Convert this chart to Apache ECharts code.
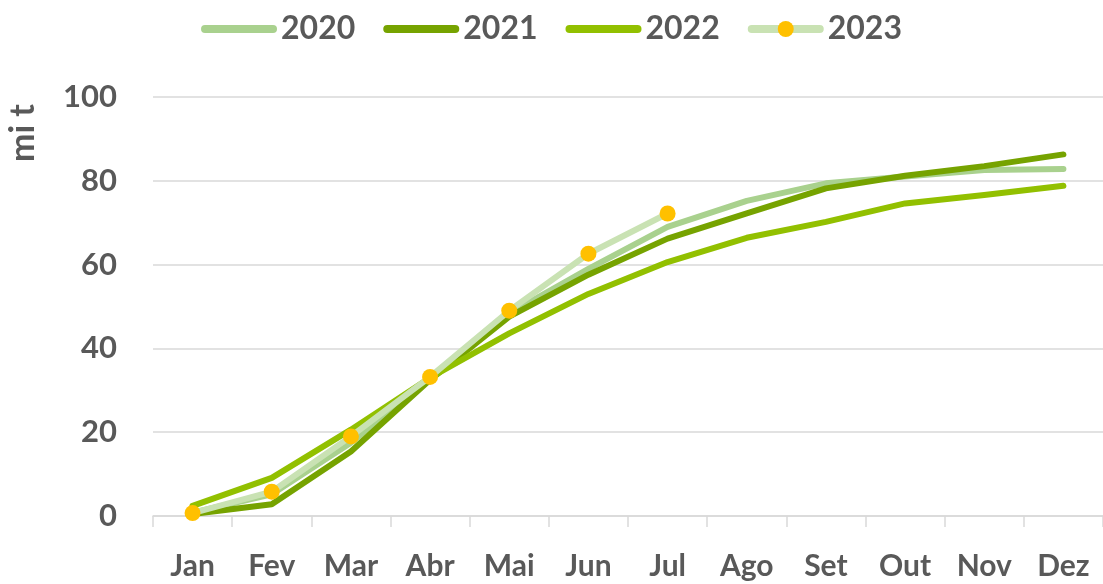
<!DOCTYPE html>
<html>
<head>
<meta charset="utf-8">
<script src="https://cdn.jsdelivr.net/npm/echarts@6/dist/echarts.min.js"></script>
<style>
  html, body { margin: 0; padding: 0; background: #fff; }
  #chart { width: 1103px; height: 584px; }
</style>
</head>
<body>
<div id="chart"></div>
<script>
const months = ['Jan', 'Fev', 'Mar', 'Abr', 'Mai', 'Jun', 'Jul', 'Ago', 'Set', 'Out', 'Nov', 'Dez'];
const years = ['2020', '2021', '2022', '2023'];

const v2020 = [0.8, 5.2, 17.5, 33, 48.3, 59, 69, 75.2, 79.4, 81, 82.6, 82.8];
const v2021 = [0.5, 2.8, 15.4, 32.5, 47.6, 57.6, 66.2, 72.2, 78.2, 81.2, 83.5, 86.3];
const v2022 = [2.4, 9.1, 20.6, 33, 43.6, 53, 60.6, 66.4, 70.2, 74.6, 76.6, 78.8];
const v2023 = [0.7, 5.8, 19, 33.2, 49, 62.6, 72.2];

const textGrey = '#595959';
const font = 'Lato';

const chart = echarts.init(document.getElementById('chart'));

const lineSeries = (name, data, color, extra) => Object.assign({
    name: name,
    type: 'line',
    data: data,
    symbol: 'none',
    lineStyle: { color: color, width: 6, cap: 'round', join: 'round' },
    itemStyle: { color: color },
    animation: false
}, extra || {});

chart.setOption({
    textStyle: { fontFamily: font },
    grid: { left: 153, right: -9, top: 97, bottom: 68 },
    legend: {
        top: 8,
        left: 'center',
        itemWidth: 68,
        itemHeight: 20,
        itemGap: 28,
        lineStyle: { width: 8, cap: 'round' },
        textStyle: { color: textGrey, fontSize: 32, fontWeight: 'bold', fontFamily: font, padding: [0, 0, 0, 3] },
        data: [
            { name: '2020', itemStyle: { opacity: 0 } },
            { name: '2021', itemStyle: { opacity: 0 } },
            { name: '2022', itemStyle: { opacity: 0 } },
            { name: '2023' }
        ]
    },
    xAxis: {
        type: 'category',
        data: months,
        boundaryGap: true,
        axisLine: { lineStyle: { color: '#d9d9d9', width: 1.5 } },
        axisTick: { show: true, length: 11, lineStyle: { color: '#d9d9d9', width: 1.5 } },
        axisLabel: { color: textGrey, fontSize: 30, fontWeight: 'bold', margin: 35 }
    },
    yAxis: {
        type: 'value',
        min: 0,
        max: 100,
        interval: 20,
        axisLine: { show: false },
        axisTick: { show: false },
        splitLine: { lineStyle: { color: '#d9d9d9', width: 1.5 } },
        axisLabel: { color: textGrey, fontSize: 31, fontWeight: 'bold', margin: 36 }
    },
    series: [
        lineSeries('2020', v2020, '#a9d18e'),
        lineSeries('2021', v2021, '#76a300'),
        lineSeries('2022', v2022, '#92c000'),
        lineSeries('2023', v2023, '#c9e2b3', {
            symbol: 'circle',
            symbolSize: 16,
            itemStyle: { color: '#ffc000' }
        })
    ],
    graphic: [{
        type: 'text',
        left: 6,
        top: 104,
        rotation: Math.PI / 2,
        style: { text: 'mi t', fill: textGrey, font: 'bold 34px ' + font }
    }]
});
</script>
</body>
</html>
